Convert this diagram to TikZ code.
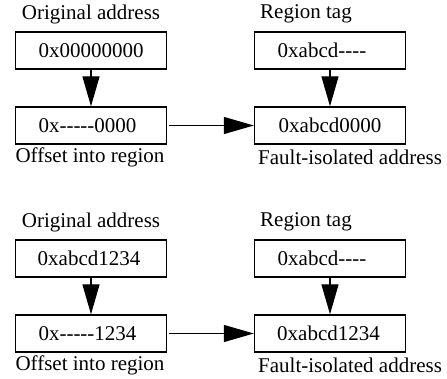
\documentclass[tikz,border=0pt]{standalone}
\usepackage{fontspec}
\setmainfont{Liberation Serif}[Ligatures=TeXOff]
\usetikzlibrary{arrows.meta}
\begin{document}
\begin{tikzpicture}[x=1pt,y=-1pt,font=\fontsize{21}{24}\selectfont,
  addrbox/.style={draw,line width=1.4pt,minimum width=151pt,minimum height=37pt,inner sep=0pt},
  lbl/.style={inner sep=0pt},
  conn/.style={line width=1.3pt,-{Triangle[length=30pt,width=17pt]}}]
\useasboundingbox (0,0) rectangle (447,379);
% top panel
\node[addrbox] (a1) at (91,50.5) {0x00000000};
\node[addrbox] (a2) at (91,125.5) {\hspace*{-7pt}0x-----0000};
\node[addrbox] (b1) at (330,50.5) {\hspace*{-16pt}0xabcd----};
\node[addrbox] (b2) at (330,125.5) {0xabcd0000};
\node[lbl] (la1) at (91,14) {Original address};
\node[lbl,anchor=west] (lb1) at (260,14) {Region tag};
\node[lbl] (la2) at (90,157) {Offset into region};
\node[lbl,anchor=west] (lb2) at (258,157) {Fault-isolated address};
\draw[conn] (a1) -- (a2);
\draw[conn] (b1) -- (b2);
\draw[conn,shorten <=2pt] (a2) -- (b2);
% bottom panel
\node[addrbox] (c1) at (91,258.5) {\hspace*{-4pt}0xabcd1234};
\node[addrbox] (c2) at (91,333.5) {\hspace*{-7pt}0x-----1234};
\node[addrbox] (d1) at (330,258.5) {\hspace*{-16pt}0xabcd----};
\node[addrbox] (d2) at (330,333.5) {\hspace*{-3pt}0xabcd1234};
\node[lbl] (lc1) at (91,222) {Original address};
\node[lbl,anchor=west] (ld1) at (260,222) {Region tag};
\node[lbl] (lc2) at (90,365) {Offset into region};
\node[lbl,anchor=west] (ld2) at (258,365) {Fault-isolated address};
\draw[conn] (c1) -- (c2);
\draw[conn] (d1) -- (d2);
\draw[conn,shorten <=2pt] (c2) -- (d2);
\end{tikzpicture}
\end{document}
